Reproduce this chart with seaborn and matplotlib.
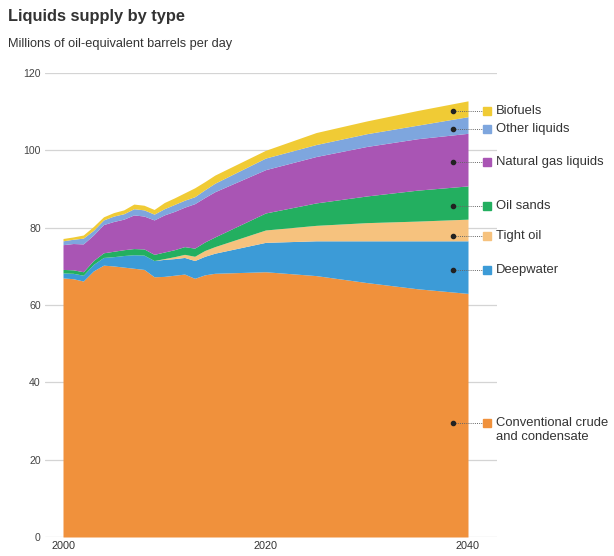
import numpy as np
import pandas as pd
import matplotlib
matplotlib.use("Agg")
import matplotlib.pyplot as plt
import seaborn as sns

years = [2000, 2001, 2002, 2003, 2004, 2005, 2006, 2007, 2008, 2009, 2010,
         2011, 2012, 2013, 2014, 2015, 2020, 2025, 2030, 2035, 2040]
conventional = [67.0, 66.8, 66.2, 68.8, 70.3, 70.1, 69.8, 69.5, 69.2, 67.3, 67.4,
                67.7, 68.0, 66.9, 67.8, 68.2, 68.6, 67.6, 65.8, 64.2, 63.0]
deepwater = [1.3, 1.4, 1.5, 1.7, 2.0, 2.4, 3.0, 3.5, 3.7, 4.2, 4.4,
             4.3, 4.3, 4.6, 4.8, 5.2, 7.6, 9.0, 10.8, 12.4, 13.6]
tight_oil = [0, 0, 0, 0, 0, 0, 0, 0, 0, 0, 0.2,
             0.5, 0.8, 1.1, 1.5, 1.7, 3.2, 4.0, 4.7, 5.1, 5.6]
oil_sands = [0.9, 0.9, 0.9, 1.0, 1.2, 1.4, 1.5, 1.6, 1.6, 1.6, 1.7,
             1.8, 2.0, 2.1, 2.2, 2.5, 4.4, 5.8, 6.9, 8.0, 8.6]
ngl = [6.4, 6.8, 7.2, 6.6, 7.3, 7.7, 7.9, 8.7, 8.5, 8.9, 9.6,
       9.9, 10.2, 11.5, 11.5, 11.7, 11.2, 12.0, 12.8, 13.3, 13.6]
other_liquids = [1.0, 1.1, 1.5, 1.2, 1.2, 1.4, 1.4, 1.6, 1.6, 1.5, 1.6,
                 1.8, 1.8, 1.8, 2.0, 2.2, 3.0, 3.1, 3.3, 3.5, 4.3]
biofuels = [0.6, 0.6, 0.8, 1.0, 0.8, 0.9, 1.0, 1.2, 1.2, 1.2, 1.6,
            1.7, 1.9, 2.3, 2.1, 2.1, 2.0, 3.1, 3.3, 3.8, 4.1]

series_names = ["Conventional crude\nand condensate", "Deepwater", "Tight oil",
                "Oil sands", "Natural gas liquids", "Other liquids", "Biofuels"]
y_ticks = [0, 20, 40, 60, 80, 100, 120]
x_ticks = [2000, 2020, 2040]

colors = ["#F0913C", "#3C9BD7", "#F6C27E", "#23AF60", "#A955B4", "#7EA6DE", "#F0CB35"]
label_y = [29.5, 69.0, 77.8, 85.6, 97.0, 105.5, 110.2]

df = pd.DataFrame({"year": years, series_names[0]: conventional, series_names[1]: deepwater,
                   series_names[2]: tight_oil, series_names[3]: oil_sands,
                   series_names[4]: ngl, series_names[5]: other_liquids,
                   series_names[6]: biofuels})

sns.set_theme(style="white")
plt.rcParams["font.family"] = ["Liberation Sans", "DejaVu Sans"]

W, H = 614, 556
fig = plt.figure(figsize=(W / 100, H / 100), dpi=100)
ax_l, ax_r, ax_b, ax_t = 45, 497, 537, 73
ax = fig.add_axes([ax_l / W, (H - ax_b) / H, (ax_r - ax_l) / W, (ax_b - ax_t) / H])

x0 = 2000 - (63 - ax_l) / 10.125
x1 = 2040 + (ax_r - 468) / 10.125
ax.set_xlim(x0, x1)
ax.set_ylim(0, 120)

for yt in y_ticks:
    ax.axhline(yt, color="#d4d4d4", lw=0.9, zorder=0)

ax.stackplot(df["year"], *[df[n] for n in series_names], colors=colors, lw=0, zorder=2)

for s in ax.spines.values():
    s.set_visible(False)
ax.set_yticks(y_ticks)
ax.set_yticklabels([str(v) for v in y_ticks], fontsize=7.6, color="#444444")
ax.set_xticks(x_ticks)
ax.set_xticklabels([str(v) for v in x_ticks], fontsize=7.8, color="#333333")
ax.tick_params(axis="both", length=0, pad=3)
ax.tick_params(axis="y", pad=3)
ax.grid(False)

# annotations: dot, dotted leader, square, label
dot_x = 2040 - (468 - 453) / 10.125
sq_x = 2040 + (487 - 468) / 10.125
txt_x = 2040 + (496 - 468) / 10.125
for name, c, ly in zip(series_names, colors, label_y):
    ax.plot([dot_x], [ly], marker="o", ms=3.0, color="#222222", zorder=5, clip_on=False)
    ax.plot([dot_x, sq_x - 0.5], [ly, ly], ls=(0, (1, 1.2)), lw=0.7, color="#666666",
            zorder=4, clip_on=False)
    ax.plot([sq_x], [ly], marker="s", ms=6.0, color=c, zorder=5, clip_on=False)
    ty = ly - 1.8 if "\n" in name else ly
    ax.text(txt_x, ty, name, fontsize=9.4, color="#333333", va="center",
            ha="left", linespacing=1.15, clip_on=False)

fig.text(8 / W, 1 - 16 / H, "Liquids supply by type", fontsize=11.8, fontweight="bold",
         color="#333333", va="center", ha="left")
fig.text(8 / W, 1 - 44 / H, "Millions of oil-equivalent barrels per day", fontsize=9.2,
         color="#333333", va="center", ha="left")

fig.savefig("out.png", dpi=100, facecolor="white")
